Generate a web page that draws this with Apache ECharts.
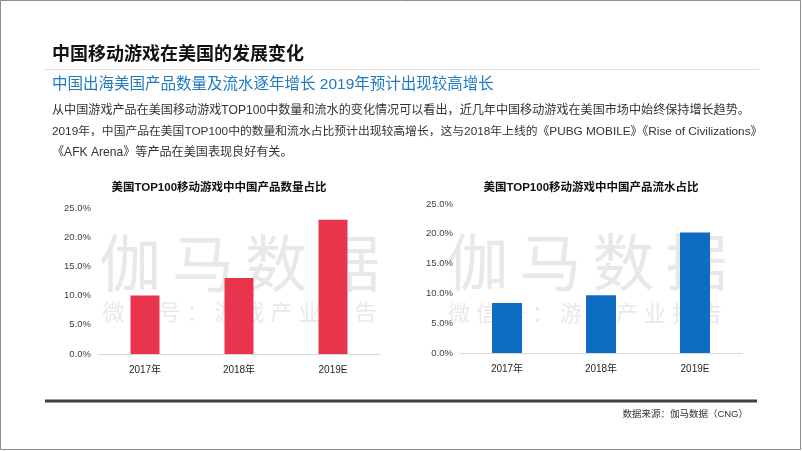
<!DOCTYPE html>
<html><head><meta charset="utf-8">
<script src="https://cdn.jsdelivr.net/npm/echarts@6/dist/echarts.min.js"></script>
<style>html,body{margin:0;padding:0;background:#fff}#c{width:802px;height:451px}</style>
</head><body><div id="c"></div>
<script>
const categories = ['2017年', '2018年', '2019E'];
const countShare = [10.0, 13.0, 23.0];
const revenueShare = [8.4, 9.7, 20.2];
const yTickValues = [0, 5, 10, 15, 20, 25];

const pageTitle = '中国移动游戏在美国的发展变化';
const subTitle = '中国出海美国产品数量及流水逐年增长 2019年预计出现较高增长';
const paragraph = [
  '从中国游戏产品在美国移动游戏TOP100中数量和流水的变化情况可以看出，近几年中国移动游戏在美国市场中始终保持增长趋势。',
  '2019年，中国产品在美国TOP100中的数量和流水占比预计出现较高增长，这与2018年上线的《PUBG MOBILE》《Rise of Civilizations》',
  '《AFK Arena》等产品在美国表现良好有关。'
];
const chartTitles = ['美国TOP100移动游戏中中国产品数量占比', '美国TOP100移动游戏中中国产品流水占比'];
const sourceText = '数据来源：伽马数据（CNG）';
const watermarkMain = '伽马数据';
const watermarkSub = '微信号：游戏产业报告';

const FONT = '"Liberation Sans", "Noto Sans CJK SC", sans-serif';

function spacedText(str, cx, cy, pitch, size, color) {
  const chars = Array.from(str);
  const start = cx - pitch * (chars.length - 1) / 2;
  return chars.map((ch, i) => ({
    type: 'text', x: start + i * pitch, y: cy, z: -10,
    style: { text: ch, fill: color, font: `${size}px "Noto Sans CJK SC"`, textAlign: 'center', textVerticalAlign: 'middle' },
    silent: true
  }));
}

const graphics = [
  { type: 'rect', shape: { x: 0.5, y: 0.5, width: 800, height: 449 }, style: { fill: null, stroke: '#8c8c8c', lineWidth: 1 }, silent: true },
  { type: 'text', x: 52, y: 55, style: { text: pageTitle, fill: '#111', font: `bold 18px ${FONT}`, textVerticalAlign: 'middle' } },
  { type: 'line', shape: { x1: 45, y1: 69.5, x2: 759, y2: 69.5 }, style: { stroke: '#dcdcdc', lineWidth: 1 } },
  { type: 'text', x: 52, y: 85, style: { text: subTitle, fill: '#1f7ac3', font: `15.5px ${FONT}`, textVerticalAlign: 'middle' } },
  { type: 'line', shape: { x1: 45, y1: 401, x2: 757, y2: 401 }, style: { stroke: '#404040', lineWidth: 3 } },
  { type: 'text', x: 748, y: 414, style: { text: sourceText, fill: '#333', font: `9.5px ${FONT}`, textAlign: 'right', textVerticalAlign: 'middle' } }
];
const paraY = [111, 132, 153];
const paraSize = [12.1, 11.8, 12.1];
paragraph.forEach((line, i) => {
  graphics.push({ type: 'text', x: 52, y: paraY[i], style: { text: line, fill: '#333', font: `${paraSize[i]}px ${FONT}`, textVerticalAlign: 'middle' } });
});
graphics.push(...spacedText(watermarkMain, 239.5, 263, 73, 62, '#e8e8e8'));
graphics.push(...spacedText(watermarkSub, 239.5, 312, 28, 22, '#e8e8e8'));
graphics.push(...spacedText(watermarkMain, 587, 262, 73, 62, '#e8e8e8'));
graphics.push(...spacedText(watermarkSub, 585, 313, 28, 22, '#e8e8e8'));

function yAx(idx) {
  return {
    gridIndex: idx, type: 'value', min: 0, max: 25, interval: 5,
    splitLine: { show: false }, axisLine: { show: false }, axisTick: { show: false },
    axisLabel: { formatter: v => yTickValues.includes(v) ? v.toFixed(1) + '%' : '', color: '#404040', fontSize: 9.5, fontFamily: FONT, margin: 7 }
  };
}
function xAx(idx) {
  return {
    gridIndex: idx, type: 'category', data: categories,
    axisLine: { lineStyle: { color: '#d9d9d9', width: 1 } }, axisTick: { show: false },
    axisLabel: { color: '#262626', fontSize: 10, fontFamily: FONT, margin: 11 }
  };
}

const chart = echarts.init(document.getElementById('c'), null, { renderer: 'canvas' });
chart.setOption({
  animation: false,
  backgroundColor: '#fff',
  title: [
    { text: chartTitles[0], left: 214, top: 177, textAlign: 'center', textStyle: { fontSize: 11.5, fontWeight: 'bold', color: '#111', fontFamily: FONT } },
    { text: chartTitles[1], left: 586, top: 177, textAlign: 'center', textStyle: { fontSize: 11.5, fontWeight: 'bold', color: '#111', fontFamily: FONT } }
  ],
  grid: [
    { left: 98, width: 282, top: 208, height: 146 },
    { left: 460, width: 282, top: 204, height: 149 }
  ],
  xAxis: [xAx(0), xAx(1)],
  yAxis: [yAx(0), yAx(1)],
  series: [
    { type: 'bar', xAxisIndex: 0, yAxisIndex: 0, data: countShare, barWidth: 29, itemStyle: { color: '#e8354c' }, z: 5 },
    { type: 'bar', xAxisIndex: 1, yAxisIndex: 1, data: revenueShare, barWidth: 30, itemStyle: { color: '#0e6dc0' }, z: 5 }
  ],
  graphic: graphics
});
</script></body></html>
